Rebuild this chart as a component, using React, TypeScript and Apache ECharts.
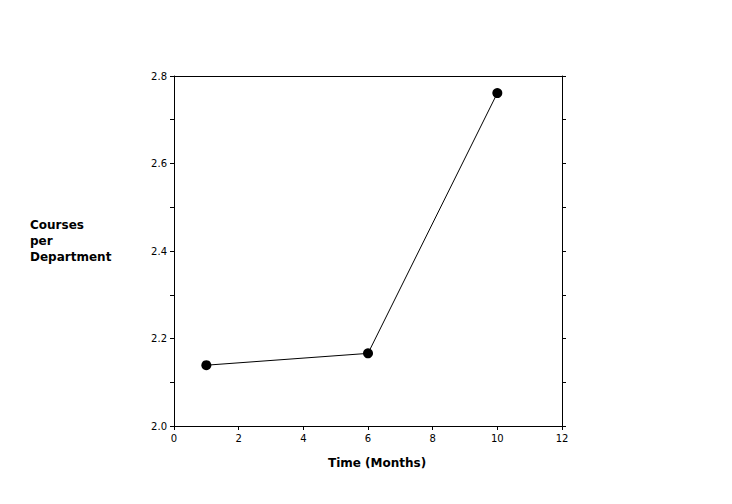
import React, { useEffect, useRef } from "react";
import * as echarts from "echarts";

const months = [1, 6, 10];
const coursesPerDept = [2.139, 2.166, 2.761];
const xTitle = "Time (Months)";
const yTitleLines = ["Courses", "per", "Department"];

export default function App() {
  const ref = useRef<HTMLDivElement>(null);
  useEffect(() => {
    if (!ref.current) return;
    const chart = echarts.init(ref.current, null, { renderer: "svg" });
    const font = "'DejaVu Sans', sans-serif";
    const axisLine = { show: true, onZero: false, lineStyle: { color: "#000", width: 1 } };
    chart.setOption({
      animation: false,
      backgroundColor: "#fff",
      grid: { left: 174, right: 170, top: 76, bottom: 78 },
      xAxis: [
        {
          type: "value",
          min: 0,
          max: 12,
          interval: 2,
          position: "bottom",
          axisLine,
          axisTick: { show: true, inside: false, length: 4, lineStyle: { color: "#000" } },
          axisLabel: { color: "#000", fontSize: 10, fontFamily: font, margin: 7 },
          splitLine: { show: false },
        },
        {
          type: "value",
          min: 0,
          max: 12,
          position: "top",
          axisLine,
          axisTick: { show: false },
          axisLabel: { show: false },
          splitLine: { show: false },
        },
      ],
      yAxis: [
        {
          type: "value",
          min: 2.0,
          max: 2.8,
          interval: 0.2,
          position: "left",
          axisLine,
          axisTick: { show: true, inside: false, length: 4, lineStyle: { color: "#000" } },
          minorTick: { show: true, splitNumber: 2, length: 4, lineStyle: { color: "#000" } },
          axisLabel: {
            color: "#000",
            fontSize: 10,
            fontFamily: font,
            margin: 7,
            formatter: (v: number) => v.toFixed(1),
          },
          splitLine: { show: false },
          minorSplitLine: { show: false },
        },
        {
          type: "value",
          min: 2.0,
          max: 2.8,
          interval: 0.2,
          position: "right",
          axisLine,
          axisTick: { show: true, inside: false, length: 4, lineStyle: { color: "#000" } },
          minorTick: { show: true, splitNumber: 2, length: 4, lineStyle: { color: "#000" } },
          axisLabel: { show: false },
          splitLine: { show: false },
          minorSplitLine: { show: false },
        },
      ],
      series: [
        {
          type: "line",
          xAxisIndex: 0,
          yAxisIndex: 0,
          data: months.map((m, i) => [m, coursesPerDept[i]]),
          symbol: "circle",
          symbolSize: 10,
          itemStyle: { color: "#000" },
          lineStyle: { color: "#000", width: 1 },
        },
      ],
      graphic: [
        {
          type: "text",
          left: 378 - 50,
          top: 457,
          style: {
            text: xTitle,
            fontSize: 12,
            fontWeight: "bold",
            fontFamily: font,
            fill: "#000",
            width: 100,
            align: "center",
          },
        },
        {
          type: "text",
          x: 30,
          y: 217,
          style: {
            text: yTitleLines.join("\n"),
            fontSize: 12,
            fontWeight: "bold",
            fontFamily: font,
            lineHeight: 16,
            fill: "#000",
          },
        },
      ],
    });
    return () => chart.dispose();
  }, []);
  return <div ref={ref} style={{ width: 732, height: 504, position: "absolute", left: 0, top: 0 }} />;
}
